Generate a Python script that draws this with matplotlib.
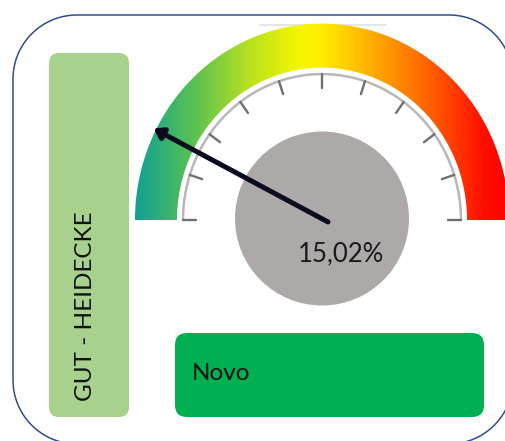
import numpy as np
import matplotlib
matplotlib.use("Agg")
import matplotlib.pyplot as plt
from matplotlib.patches import FancyBboxPatch, PathPatch, Circle, FancyArrowPatch
from matplotlib.path import Path
from matplotlib.colors import LinearSegmentedColormap

# ---- data ----
company = "GUT - HEIDECKE"
status = "Novo"
value_pct = 15.02
value_label = "15,02%"
gauge_min = 0.0
gauge_max = 100.0
n_ticks = 11

# colour stops of the gauge band, left (low) to right (high)
band_stops = [0.0, 0.065, 0.13, 0.21, 0.305, 0.44, 0.50, 0.57, 0.66, 0.75, 0.84, 0.93, 1.0]
band_colors = ["#12A095", "#2DAF78", "#4CBC5C", "#7ACC40", "#B8E020", "#F6F800",
               "#FFEC00", "#FFCC00", "#FFA000", "#FF7400", "#FF4400", "#FF1000", "#FF0000"]

plt.rcParams['font.family'] = ['Lato', 'DejaVu Sans']
plt.rcParams['savefig.bbox'] = 'standard'

fig = plt.figure(figsize=(5.05, 4.41), dpi=100)
ax = fig.add_axes([0, 0, 1, 1])
W, H = 505, 441


def rounded_rect_path(x0, y0, x1, y1, r, n=30):
    """Closed path of a rounded rectangle in data units (y grows downward)."""
    pts = []
    corners = [(x1 - r, y0 + r, -90, 0), (x1 - r, y1 - r, 0, 90),
               (x0 + r, y1 - r, 90, 180), (x0 + r, y0 + r, 180, 270)]
    for ccx, ccy, a0, a1 in corners:
        t = np.radians(np.linspace(a0, a1, n))
        pts.extend(zip(ccx + r * np.cos(t), ccy + r * np.sin(t)))
    pts.append(pts[0])
    codes = [Path.MOVETO] + [Path.LINETO] * (len(pts) - 2) + [Path.CLOSEPOLY]
    return Path(np.array(pts), codes)


# outer card (extends slightly past the right and bottom edges)
card = PathPatch(rounded_rect_path(13, 15, 513, 444, 64), facecolor="white",
                 edgecolor="#2E4E8C", linewidth=1.1, zorder=1)
ax.add_patch(card)

# company bar on the left
bar = FancyBboxPatch((49, 53), 80, 364, boxstyle="round,pad=0,rounding_size=10",
                     facecolor="#A9D18E", edgecolor="none", zorder=2)
ax.add_patch(bar)
ax.text(86, 306, company, rotation=90, ha="center", va="center",
        fontsize=17.5, color="#111111", zorder=3)

# status box
box = FancyBboxPatch((175, 333), 309, 84, boxstyle="round,pad=0,rounding_size=12",
                     facecolor="#00B050", edgecolor="none", zorder=2)
ax.add_patch(box)
ax.text(192, 374, status, ha="left", va="center", fontsize=17.5,
        color="#111111", zorder=3)

# gauge geometry (slightly taller than wide)
cx, cy = 322.0, 220.0
sy = 1.05
r_out, r_in = 187.0, 145.0


def ellipse_pts(r, a):
    return cx + r * np.cos(a), cy - r * sy * np.sin(a)


# faint shadow line over the top of the band
ax.plot([260, 386], [25, 25], color="#E2E2E2", lw=1.2, zorder=2,
        solid_capstyle="round")

a = np.linspace(np.pi, 0, 200)
xo, yo = ellipse_pts(r_out, a)
xi, yi = ellipse_pts(r_in, a[::-1])
verts = np.column_stack([np.r_[xo, xi, xo[0]], np.r_[yo, yi, yo[0]]])
codes = [Path.MOVETO] + [Path.LINETO] * (len(verts) - 2) + [Path.CLOSEPOLY]
band_patch = PathPatch(Path(verts, codes), facecolor="none", edgecolor="none")
ax.add_patch(band_patch)

cmap = LinearSegmentedColormap.from_list("band", list(zip(band_stops, band_colors)))
grad = np.linspace(0, 1, 512).reshape(1, -1)
x0, x1 = cx - r_out, cx + r_out
im = ax.imshow(grad, cmap=cmap, extent=[x0, x1, cy + 2, cy - r_out * sy - 2],
               aspect="auto", interpolation="bilinear", zorder=3)
im.set_clip_path(band_patch)

# scale track and ticks
r_track, r_tick = 139.0, 126.0
at = np.linspace(np.pi, 0, 200)
tx, ty = ellipse_pts(r_track, at)
ax.plot(tx, ty, color="#B8B8B8", lw=1.8, zorder=4, solid_capstyle="butt")
for ang in np.linspace(np.pi, 0, n_ticks):
    xa, ya = ellipse_pts(r_track, ang)
    xb, yb = ellipse_pts(r_tick, ang)
    ax.plot([xa, xb], [ya, yb], color="#707070", lw=1.7, zorder=4,
            solid_capstyle="round")

# hub
hub = Circle((322, 218.5), 87, facecolor="#ADA9A9", edgecolor="none", zorder=5)
ax.add_patch(hub)

# needle
frac = (value_pct - gauge_min) / (gauge_max - gauge_min)
theta = np.pi * (1 - frac)
px, py = 328.0, 222.0
needle_len = 196.0
tip = (px + needle_len * np.cos(theta), py - needle_len * sy * np.sin(theta))
needle = FancyArrowPatch((px, py), tip, arrowstyle="-|>,head_length=0.45,head_width=0.3",
                         mutation_scale=12, color="#0B0B1E", lw=3.6,
                         shrinkA=0, shrinkB=0, zorder=6)
ax.add_patch(needle)

ax.text(341, 254, value_label, ha="center", va="center", fontsize=18.5,
        color="#1A1A1A", zorder=7)

ax.set_xlim(0, W)
ax.set_ylim(H, 0)
ax.axis("off")
fig.savefig("out.png", dpi=100)
